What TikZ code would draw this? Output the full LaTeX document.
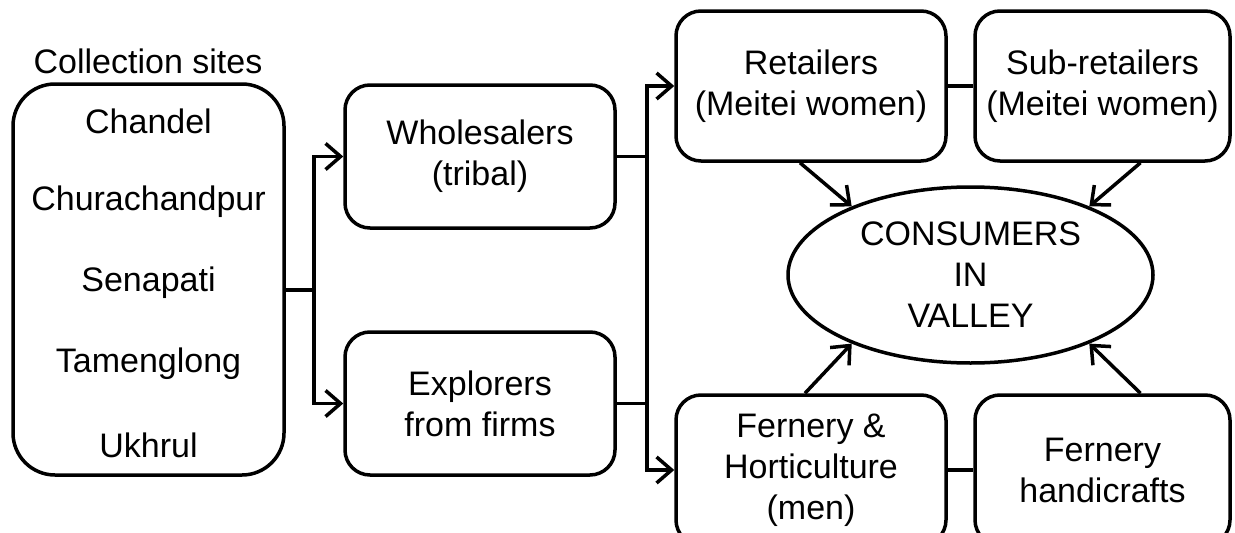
\documentclass[tikz,border=0pt]{standalone}
\usepackage{fontspec}
\setmainfont{Liberation Sans}
\usetikzlibrary{arrows.meta,shapes.geometric}

\begin{document}
\begin{tikzpicture}[x=1pt,y=-1pt,line width=3.5pt,
	>={Straight Barb[length=15pt,width=26pt]},
	every node/.style={font=\fontsize{34}{41}\selectfont,align=center,inner sep=0pt},
	box/.style={draw,rounded corners=25pt,minimum width=270pt,minimum height=150pt}]
	\useasboundingbox (0,0) rectangle (1235,533);
	\node (title) at (148,61) {Collection sites};
	\node[box,rounded corners=42pt,minimum width=271pt,minimum height=391pt] (sites) at (148.5,279.5) {};
	\foreach \s [count=\i] in {Chandel,Churachandpur,Senapati,Tamenglong,Ukhrul}
		\node (site\i) at (148.5,{121+(\i-1)*81}) {\s};
	\node[box,minimum height=143pt] (whole) at (480,156.5) {Wholesalers\\(tribal)};
	\node[box,minimum height=143pt] (expl) at (480,403.5) {Explorers\\from firms};
	\node[box] (retail) at (811,86) {Retailers\\(Meitei women)};
	\node[box,minimum width=255pt] (subr) at (1102.5,86) {Sub-retailers\\(Meitei women)};
	\node[box] (fern) at (811,470) {Fernery \&\\Horticulture\\(men)};
	\node[box,minimum width=255pt] (hand) at (1102.5,470) {Fernery\\handicrafts};
	\node[draw,ellipse,minimum width=365pt,minimum height=176pt] (cons) at (970.5,275) {CONSUMERS\\IN\\VALLEY};
	\coordinate (split) at (314,290);
	\coordinate (merge) at (647,0);
	\draw (sites.east |- split) -- (split);
	\draw[->] (split) |- (whole.west);
	\draw[->] (split) |- (expl.west);
	\draw (whole.east) -- (whole.east -| merge);
	\draw (expl.east) -- (expl.east -| merge);
	\draw[<->] (retail.west) -- (retail.west -| merge) -- (fern.west -| merge) -- (fern.west);
	\draw (retail) -- (subr);
	\draw (fern) -- (hand);
	\draw[->] ([xshift=-11pt]retail.south) -- (cons.150);
	\draw[->] ([xshift=38pt]subr.south) -- (cons.30);
	\draw[->] ([xshift=-6pt]fern.north) -- (cons.210);
	\draw[->] ([xshift=38pt]hand.north) -- (cons.330);
\end{tikzpicture}
\end{document}
